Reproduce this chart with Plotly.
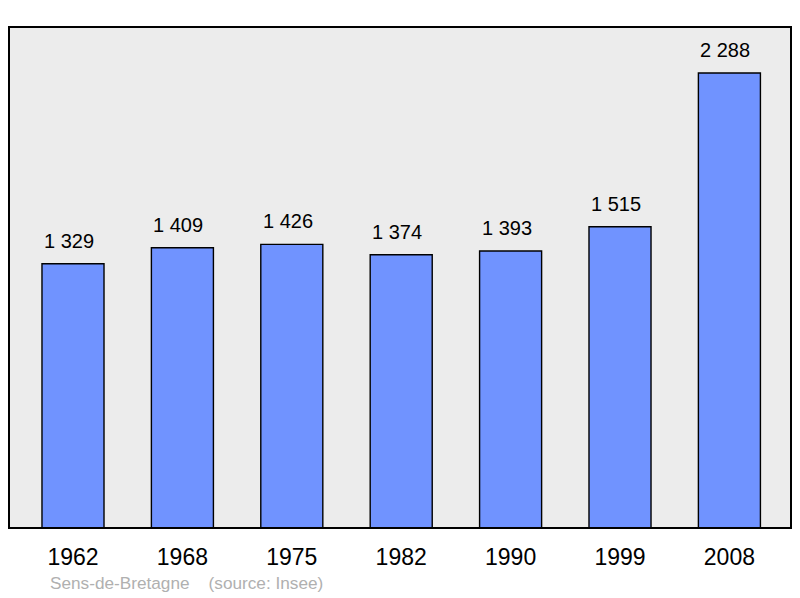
import plotly.graph_objects as go

years = ["1962", "1968", "1975", "1982", "1990", "1999", "2008"]
population = [1329, 1409, 1426, 1374, 1393, 1515, 2288]
labels = ["1 329", "1 409", "1 426", "1 374", "1 393", "1 515", "2 288"]
source_text = "Sens-de-Bretagne    (source: Insee)"

FONT = "Liberation Sans, Arial, sans-serif"

fig = go.Figure()
fig.add_trace(go.Bar(
    x=years, y=population, width=0.567,
    marker=dict(color="#7093ff", line=dict(color="#000000", width=1.4)),
    hoverinfo="skip",
))

for i, (v, t) in enumerate(zip(population, labels)):
    fig.add_annotation(x=i, y=v, text=t, showarrow=False, yanchor="bottom",
                       yshift=10, xshift=-4, font=dict(family=FONT, size=20, color="#000"))

fig.add_annotation(xref="paper", yref="paper", x=(48 - 9) / 782, y=-(583 - 528) / 501,
                   xanchor="left", yanchor="middle", showarrow=False,
                   text=source_text.replace(" ", "&nbsp;"),
                   font=dict(family=FONT, size=17.2, color="#b0b0b0"))

fig.add_shape(type="rect", xref="paper", yref="paper", x0=0, y0=0, x1=1, y1=1,
              line=dict(color="#000000", width=2), layer="above")

fig.update_layout(
    width=800, height=598,
    margin=dict(l=9, r=9, t=27, b=70),
    paper_bgcolor="#ffffff", plot_bgcolor="#ececec",
    showlegend=False,
    xaxis=dict(type="category", range=[-0.585, 6.563], showgrid=False, zeroline=False,
               ticks="outside", ticklen=8, tickcolor="rgba(0,0,0,0)",
               tickfont=dict(family=FONT, size=23, color="#000")),
    yaxis=dict(range=[0, 2519], showgrid=False, zeroline=False, showticklabels=False),
)

fig.write_html("out.html", config={"displayModeBar": False},
               post_script="document.body.style.margin='0';")
